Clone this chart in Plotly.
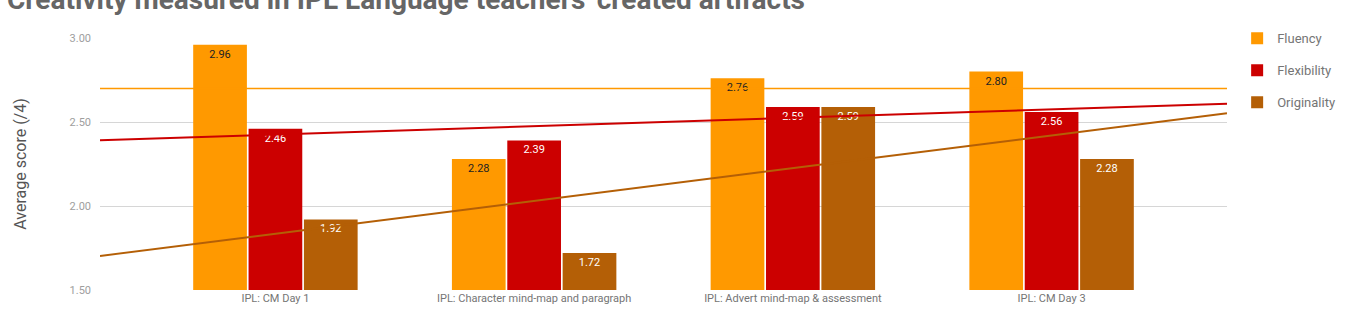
import numpy as np
import plotly.graph_objects as go

categories = ["IPL: CM Day 1", "IPL: Character mind-map and paragraph",
              "IPL: Advert mind-map & assessment", "IPL: CM Day 3"]
fluency = [2.96, 2.28, 2.76, 2.80]
flexibility = [2.46, 2.39, 2.59, 2.56]
originality = [1.92, 1.72, 2.59, 2.28]
series_names = ["Fluency", "Flexibility", "Originality"]
colors = ["#ff9900", "#cc0000", "#b45f06"]
label_colors = ["#222222", "#ffffff", "#ffffff"]
trend_widths = [1.5, 2, 2]
y_ticks = [1.5, 2.0, 2.5, 3.0]
title_text = "Creativity measured in IPL Language teachers' created artifacts"

xr = [-0.678, 3.678]
fig = go.Figure()
for name, vals, col, lc in zip(series_names, [fluency, flexibility, originality], colors, label_colors):
    fig.add_trace(go.Bar(
        x=categories, y=[v - 1.5 for v in vals], base=1.5, name=name,
        marker=dict(color=col, line=dict(width=0)),
        text=[f"{v:.2f}" for v in vals], textposition="inside",
        insidetextanchor="end", textangle=0,
        textfont=dict(family="Roboto", size=11, color=lc),
        legendgroup=name, hoverinfo="skip"))

idx = np.arange(len(categories))
for name, vals, col, w in zip(series_names, [fluency, flexibility, originality], colors, trend_widths):
    m, b = np.polyfit(idx, vals, 1)
    xs = np.array(xr)
    fig.add_trace(go.Scatter(
        x=xs, y=m * xs + b, mode="lines", xaxis="x2",
        line=dict(color=col, width=w), showlegend=False, hoverinfo="skip"))

fig.update_layout(
    width=1366, height=326,
    margin=dict(l=100, r=139, t=38, b=36),
    paper_bgcolor="white", plot_bgcolor="white",
    font=dict(family="Roboto", color="#757575"),
    barmode="group", bargap=0.358, bargroupgap=0.03,
    xaxis=dict(type="category", range=xr, showgrid=False, zeroline=False,
               showline=False, ticks="", tickfont=dict(size=11, color="#757575")),
    xaxis2=dict(overlaying="x", range=xr, visible=False),
    yaxis=dict(range=[1.5, 3.0], tickvals=y_ticks, ticktext=[f"{v:.2f}" for v in y_ticks],
               showgrid=True, gridcolor="#d6d6d6", gridwidth=1, zeroline=False,
               showline=False, ticks="", ticklabelstandoff=8,
               tickfont=dict(size=11, color="#9e9e9e"),
               title=dict(text="Average score (/4)", font=dict(size=16, color="#555555"), standoff=38)),
    legend=dict(x=1.009, y=1.058, xanchor="left", yanchor="top",
                font=dict(size=13, color="#757575"), tracegroupgap=12,
                bgcolor="rgba(0,0,0,0)"),
    annotations=[dict(text=f"<b>{title_text}</b>", xref="paper", yref="paper",
                      x=(5 - 100) / 1127, y=1 + (38 + 1) / 252, xanchor="left", yanchor="middle",
                      showarrow=False, font=dict(family="Roboto", size=28, color="#666666"))],
)
fig.write_html("out.html")
